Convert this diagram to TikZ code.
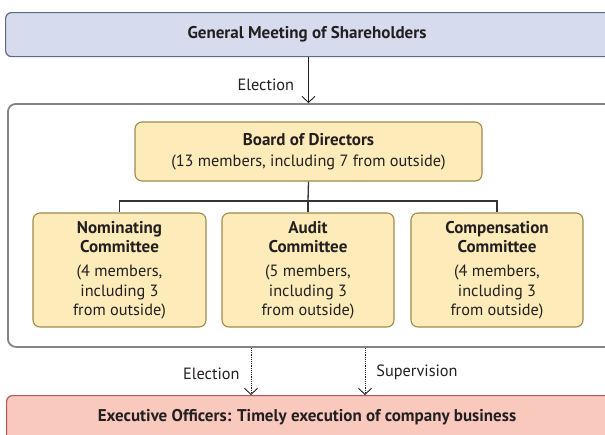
\documentclass[tikz,border=0pt]{standalone}
\usepackage{fontspec}
\setmainfont{PT Sans}
\usetikzlibrary{arrows.meta,calc}
\definecolor{txt}{HTML}{231F20}
\definecolor{gmsfill}{HTML}{D6DCEE}
\definecolor{gmsdraw}{HTML}{5F6A86}
\definecolor{yfill}{HTML}{FDEBBA}
\definecolor{ydraw}{HTML}{A08A4A}
\definecolor{rfill}{HTML}{F9C9BE}
\definecolor{rdraw}{HTML}{B5565E}
\definecolor{outerdraw}{HTML}{858585}
\definecolor{linec}{HTML}{333333}
\newcommand{\bt}[1]{{\fontsize{17}{19.5}\selectfont\bfseries #1}}
\tikzset{
  every node/.style={text=txt, font=\fontsize{16.3}{19.5}\selectfont, inner sep=0pt},
  bar/.style={draw=gmsdraw, fill=gmsfill, line width=1.2pt, rounded corners=6pt},
  ybox/.style={draw=ydraw, fill=yfill, line width=1.1pt, rounded corners=7pt, align=center},
  rbar/.style={draw=rdraw, fill=rfill, line width=1.2pt, rounded corners=6pt},
  outerbox/.style={draw=outerdraw, line width=1.8pt, rounded corners=8pt},
  tree/.style={draw=linec, line width=1.3pt},
  solidarrow/.style={draw=txt, line width=0.9pt, -{Straight Barb[length=6pt,width=13pt,line width=0.9pt]}},
  dotarrow/.style={draw=txt, line width=0.9pt, dash pattern=on 1.1pt off 1.1pt, -{Straight Barb[length=6pt,width=13pt,line width=0.9pt,sep=0pt]}},
  lbl/.style={font=\fontsize{16.3}{19}\selectfont},
}
\begin{document}
\begin{tikzpicture}[x=1pt,y=-1pt]
\useasboundingbox (0,0) rectangle (605,434);
\clip (0,0) rectangle (605,434);
% boxes
\node[bar, minimum width=611pt, minimum height=44pt, anchor=north west] (gms) at (5,12) {};
\node (gmst) at (307,34) {\bt{General Meeting of Shareholders}};
\node[outerbox, minimum width=612pt, minimum height=243pt, anchor=north west] (outer) at (7,103) {};
\node[rbar, minimum width=612pt, minimum height=50pt, anchor=north west] (exec) at (6,395) {};
\node (exect) at (307,417) {\bt{Executive Officers: Timely execution of company business}};
\node[ybox, minimum width=347pt, minimum height=59pt] (board) at (308.5,151.5) {\bt{Board of Directors}\\[2pt](13 members, including 7 from outside)};
\node[ybox, minimum width=173pt, minimum height=114pt] (nom) at (119.5,270) {\bt{Nominating}\\\bt{Committee}\\[4.5pt](4 members,\\including 3\\from outside)};
\node[ybox, minimum width=172pt, minimum height=114pt] (aud) at (308,270) {\bt{Audit}\\\bt{Committee}\\[4.5pt](5 members,\\including 3\\from outside)};
\node[ybox, minimum width=172pt, minimum height=114pt] (comp) at (497,270) {\bt{Compensation}\\\bt{Committee}\\[4.5pt](4 members,\\including 3\\from outside)};
% tree
\coordinate (junc) at (308,201);
\draw[tree] (board.south) -- (junc);
\draw[tree] (nom.north) |- (junc) -| (comp.north);
\draw[tree] (junc) -- (aud.north);
% arrows
\draw[solidarrow] (gms.south -| board.north) -- node[lbl, left=14pt, pos=0.6] (el1) {Election} (outer.north -| board.north);
\coordinate (c1) at (251,0);
\coordinate (c2) at (365,0);
\draw[dotarrow] (outer.south -| c1) -- node[lbl, left=11pt, pos=0.55] (el2) {Election} (exec.north -| c1);
\draw[dotarrow] (outer.south -| c2) -- node[lbl, right=11pt, pos=0.52] (sup) {Supervision} (exec.north -| c2);
\end{tikzpicture}
\end{document}
